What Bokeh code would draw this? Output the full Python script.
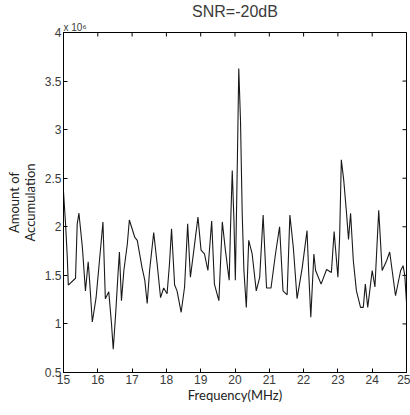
from bokeh.plotting import figure
from bokeh.models import FixedTicker, Range1d, Title
from bokeh.embed import file_html
from bokeh.resources import INLINE

# ---- data (frequency in MHz, accumulation in units of 1e6) ----
freq = [15.00, 15.06, 15.11, 15.14, 15.35, 15.40, 15.45, 15.55, 15.64, 15.72,
        15.76, 15.84, 15.95, 16.11, 16.15, 16.22, 16.32, 16.40, 16.45, 16.52,
        16.59, 16.63, 16.69, 16.76, 16.86, 16.92, 17.08, 17.15, 17.29, 17.37,
        17.44, 17.51, 17.63, 17.73, 17.83, 17.92, 18.02, 18.09, 18.15, 18.24,
        18.31, 18.43, 18.53, 18.62, 18.70, 18.80, 18.92, 19.01, 19.11, 19.21,
        19.32, 19.40, 19.53, 19.63, 19.72, 19.83, 19.87, 19.92, 19.97, 20.01,
        20.07, 20.11, 20.16, 20.21, 20.26, 20.33, 20.40, 20.50, 20.62, 20.72,
        20.82, 20.92, 21.05, 21.18, 21.30, 21.40, 21.52, 21.60, 21.70, 21.81,
        21.96, 22.10, 22.15, 22.21, 22.30, 22.35, 22.51, 22.67, 22.81, 22.89,
        23.00, 23.05, 23.10, 23.17, 23.24, 23.31, 23.37, 23.45, 23.54, 23.66,
        23.74, 23.80, 23.87, 24.00, 24.08, 24.19, 24.29, 24.42, 24.51, 24.68,
        24.83, 24.90, 24.95, 25.00]
accum = [2.36, 2.03, 1.69, 1.40, 1.47, 2.03, 2.14, 1.79, 1.34, 1.64,
         1.45, 1.02, 1.27, 1.89, 2.05, 1.26, 1.33, 1.00, 0.74, 1.10,
         1.52, 1.74, 1.24, 1.55, 1.82, 2.07, 1.89, 1.86, 1.58, 1.45,
         1.21, 1.55, 1.94, 1.62, 1.27, 1.37, 1.31, 1.62, 1.98, 1.40,
         1.34, 1.12, 1.38, 2.03, 1.48, 1.76, 2.10, 1.76, 1.72, 1.55,
         2.06, 1.41, 1.24, 2.05, 1.76, 1.45, 2.00, 2.58, 2.06, 1.45,
         2.70, 3.63, 3.10, 2.14, 1.55, 1.17, 1.86, 1.72, 1.34, 1.48,
         2.12, 1.37, 1.37, 1.72, 2.00, 1.34, 1.30, 2.12, 1.79, 1.26,
         1.58, 1.96, 1.52, 1.07, 1.72, 1.55, 1.41, 1.56, 1.53, 1.95,
         1.48, 1.89, 2.69, 2.48, 2.19, 1.87, 2.14, 1.65, 1.34, 1.17,
         1.17, 1.41, 1.17, 1.55, 1.38, 2.17, 1.55, 1.65, 1.74, 1.29,
         1.55, 1.60, 1.50, 1.22]

x_ticks = [15, 16, 17, 18, 19, 20, 21, 22, 23, 24, 25]
y_ticks = [0.5, 1, 1.5, 2, 2.5, 3, 3.5, 4]
y_tick_labels = ["0.5", "1", "1.5", "2", "2.5", "3", "3.5", "4"]

title_text = "SNR=-20dB"
exponent_text = "x 10\u2076"
x_label = "Frequency(MHz)"
y_label = "Amount of\nAccumulation"

TICK_FONT = "'Liberation Sans Narrow', 'Liberation Sans', sans-serif"
LABEL_FONT = "Lato, 'Open Sans', sans-serif"
GREY = "#3a3a3a"

W, H = 410, 415
BL, BR, BT, BB = 63, 4, 32, 43
X0, X1, Y0, Y1 = 15, 25, 0.5, 4
TICK = 4  # px

p = figure(width=W, height=H, x_range=Range1d(X0, X1), y_range=Range1d(Y0, Y1),
           output_backend="svg", toolbar_location=None, title=None,
           min_border_left=BL, min_border_right=BR, min_border_top=BT, min_border_bottom=BB,
           background_fill_color="white", border_fill_color="white")
p.xgrid.visible = False
p.ygrid.visible = False
p.outline_line_color = "black"
p.outline_line_width = 1

for ax in (p.xaxis[0], p.yaxis[0]):
    ax.major_tick_in = TICK
    ax.major_tick_out = 0
    ax.minor_tick_line_color = None
    ax.axis_line_color = "black"
    ax.major_tick_line_color = "black"
    ax.major_label_text_font = TICK_FONT
    ax.major_label_text_color = GREY
    ax.major_label_text_font_size = "12px"
    ax.major_label_standoff = 2
    ax.axis_label_text_font = LABEL_FONT
    ax.axis_label_text_font_style = "normal"
    ax.axis_label_text_font_size = "13px"
    ax.axis_label_text_color = "#222222"

p.xaxis.ticker = FixedTicker(ticks=x_ticks)
p.yaxis.ticker = FixedTicker(ticks=y_ticks)
p.yaxis.major_label_overrides = {t: s for t, s in zip(y_ticks, y_tick_labels)}
p.xaxis.axis_label = x_label
p.xaxis.axis_label_standoff = 0
p.yaxis.axis_label = y_label
p.yaxis.axis_label_standoff = 4
p.yaxis.axis_label_text_line_height = 1.0

# inward ticks on the top and right edges of the box
fw, fh = W - BL - BR, H - BT - BB
dy = TICK * (Y1 - Y0) / fh
dx = TICK * (X1 - X0) / fw
p.segment(x0=x_ticks, y0=[Y1] * len(x_ticks), x1=x_ticks, y1=[Y1 - dy] * len(x_ticks),
          line_color="black", line_width=1)
p.segment(x0=[X1] * len(y_ticks), y0=y_ticks, x1=[X1 - dx] * len(y_ticks), y1=y_ticks,
          line_color="black", line_width=1)

p.line(freq, accum, line_color="#1a1a1a", line_width=1.1)

# titles: exponent marker nearest the frame, main title above it
p.add_layout(Title(text=exponent_text, align="left", text_font=TICK_FONT,
                   text_font_size="10px", text_font_style="normal", text_color=GREY,
                   text_line_height=1.0, standoff=0, offset=0), "above")
p.add_layout(Title(text=title_text, align="center", text_font=TICK_FONT,
                   text_font_size="16px", text_font_style="normal", text_color=GREY,
                   text_line_height=1.0, standoff=0), "above")

open("out.html", "w").write(file_html(p, INLINE))
